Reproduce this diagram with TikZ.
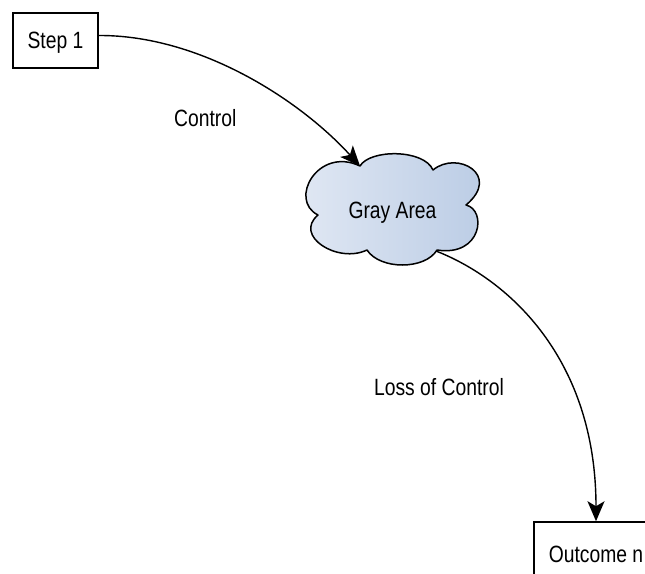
\documentclass[tikz,border=0pt]{standalone}
\usepackage{fontspec}
\setmainfont{Liberation Sans}
\usepackage{graphicx}
\usetikzlibrary{arrows.meta}
\definecolor{cloudL}{HTML}{E2E9F4}
\definecolor{cloudR}{HTML}{B8CAE4}
\newcommand\lbl[1]{\scalebox{1}[1.22]{\raisebox{0pt}[\height][0pt]{#1}}}
\begin{document}
\begin{tikzpicture}[x=1pt,y=-1pt,
  box/.style={draw, line width=1.5pt, minimum width=85pt, minimum height=55pt, inner sep=0pt, font=\fontsize{19.3}{22}\selectfont},
  lab/.style={inner sep=0pt, font=\fontsize{19.3}{22}\selectfont},
  conn/.style={line width=1.4pt, -{Stealth[length=20pt,width=17pt,inset=5pt]}},
  cloudline/.style={draw, line width=1.5pt, line join=round, left color=cloudL, right color=cloudR}]
\clip (0,0) rectangle (645,573);
\fill[white] (0,0) rectangle (645,573);
% cloud
\path[cloudline] (318,215) .. controls (288,200) and (318,146) .. (360,166)
 .. controls (370,149) and (424,149) .. (433,170)
 .. controls (457,150) and (502,175) .. (466,205)
 .. controls (487,210) and (482,257) .. (437,250)
 .. controls (425,270) and (380,270) .. (367,250)
 .. controls (338,264) and (293,236) .. (318,215) -- cycle;
\coordinate (gIn) at (360,166);
\coordinate (gOut) at (436,251);
\node[lab] (gray) at (392.5,210) {\lbl{Gray Area}};
% boxes
\node[box] (step1) at (55.5,40.5) {\lbl{Step 1}};
\node[box, minimum width=124pt, minimum height=64pt] (outcome) at (596,554) {\lbl{Outcome n}};
% labels
\node[lab] (ctl) at (205.3,118.3) {\lbl{Control}};
\node[lab] (loss) at (439,386.7) {\lbl{Loss of Control}};
% connectors
\draw[conn] ([yshift=5pt]step1.east) .. controls (200,35) and (300,100) .. (gIn);
\draw[conn] (gOut) .. controls (510,280) and (596,360) .. (outcome.north);
\end{tikzpicture}
\end{document}
